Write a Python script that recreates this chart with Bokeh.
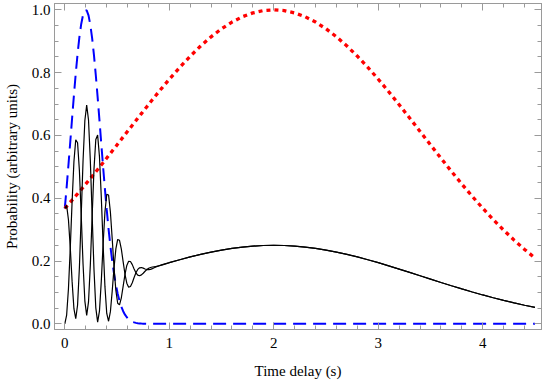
from bokeh.plotting import figure
from bokeh.models import Range1d, LinearAxis, FixedTicker, PrintfTickFormatter, ColumnDataSource
from bokeh.embed import file_html
from bokeh.resources import INLINE

# time delay (s)
time_s = [0.0, 0.0175, 0.0349, 0.0524, 0.0698, 0.0873, 0.1047, 0.1222, 0.1396, 0.1571,
          0.1745, 0.1920, 0.2094, 0.2269, 0.2443, 0.2618, 0.2793, 0.2967, 0.3142, 0.3316,
          0.3491, 0.3665, 0.3840, 0.4014, 0.4189, 0.4363, 0.4538, 0.4712, 0.4887, 0.5061,
          0.5236, 0.5411, 0.5585, 0.5760, 0.5934, 0.6109, 0.6283, 0.6458, 0.6632, 0.6807,
          0.6981, 0.7156, 0.7330, 0.7505, 0.7679, 0.7854, 0.8029, 0.8203, 0.8378, 0.8552,
          0.8727, 0.8901, 0.9076, 0.9250, 0.9425,
          1.0, 1.1, 1.2, 1.3, 1.4, 1.5, 1.6, 1.7, 1.8, 1.9,
          2.0, 2.1, 2.2, 2.3, 2.4, 2.5, 2.6, 2.7, 2.8, 2.9,
          3.0, 3.1, 3.2, 3.3, 3.4, 3.5, 3.6, 3.7, 3.8, 3.9,
          4.0, 4.1, 4.2, 4.3, 4.4, 4.5]

# blue dashed pulse
blue_pulse = [0.3679, 0.4347, 0.5059, 0.5799, 0.6546, 0.7278, 0.7969, 0.8595, 0.9129, 0.9549,
              0.9839, 0.9984, 0.9978, 0.9821, 0.9520, 0.9089, 0.8547, 0.7915, 0.7219, 0.6485,
              0.5738, 0.4999, 0.4290, 0.3627, 0.3019, 0.2475, 0.1999, 0.1589, 0.1245, 0.0960,
              0.0730, 0.0546, 0.0402, 0.0292, 0.0209, 0.0147, 0.0102, 0.0070, 0.0047, 0.0031,
              0.0020, 0.0013, 0.0008, 0.0005, 0.0003, 0.0002, 0.0001, 0.0001, 0.0, 0.0,
              0.0, 0.0, 0.0, 0.0, 0.0,
              0.0, 0.0, 0.0, 0.0, 0.0, 0.0, 0.0, 0.0, 0.0, 0.0,
              0.0, 0.0, 0.0, 0.0, 0.0, 0.0, 0.0, 0.0, 0.0, 0.0,
              0.0, 0.0, 0.0, 0.0, 0.0, 0.0, 0.0, 0.0, 0.0, 0.0,
              0.0, 0.0, 0.0, 0.0, 0.0, 0.0]

# red dotted pulse
red_pulse = [0.3679, 0.3743, 0.3809, 0.3874, 0.3940, 0.4007, 0.4074, 0.4142, 0.4210, 0.4278,
             0.4347, 0.4417, 0.4487, 0.4557, 0.4628, 0.4699, 0.4770, 0.4842, 0.4914, 0.4987,
             0.5059, 0.5132, 0.5206, 0.5279, 0.5353, 0.5427, 0.5501, 0.5575, 0.5650, 0.5725,
             0.5799, 0.5874, 0.5949, 0.6023, 0.6098, 0.6173, 0.6247, 0.6322, 0.6397, 0.6471,
             0.6546, 0.6620, 0.6694, 0.6768, 0.6842, 0.6915, 0.6988, 0.7061, 0.7134, 0.7206,
             0.7278, 0.7349, 0.7420, 0.7491, 0.7561,
             0.7788, 0.8167, 0.8521, 0.8847, 0.9139, 0.9394, 0.9608, 0.9778, 0.9900, 0.9975,
             1.0000, 0.9975, 0.9900, 0.9778, 0.9608, 0.9394, 0.9139, 0.8847, 0.8521, 0.8167,
             0.7788, 0.7390, 0.6977, 0.6554, 0.6126, 0.5698, 0.5273, 0.4855, 0.4449, 0.4056,
             0.3679, 0.3321, 0.2982, 0.2665, 0.2369, 0.2096]

# black solid: first interference signal
black_a = [0.0000, 0.0276, 0.1119, 0.2418, 0.3892, 0.5159, 0.5860, 0.5767, 0.4885, 0.3457,
           0.1912, 0.0725, 0.0270, 0.0698, 0.1877, 0.3447, 0.4926, 0.5869, 0.6011, 0.5330,
           0.4046, 0.2533, 0.1192, 0.0332, 0.0083, 0.0389, 0.1046, 0.1791, 0.2387, 0.2686,
           0.2661, 0.2380, 0.1975, 0.1579, 0.1295, 0.1168, 0.1188, 0.1310, 0.1474, 0.1626,
           0.1733, 0.1785, 0.1793, 0.1774, 0.1748, 0.1729, 0.1725, 0.1736, 0.1758, 0.1785,
           0.1812, 0.1837, 0.1859, 0.1878, 0.1894,
           0.1947, 0.2042, 0.2130, 0.2212, 0.2285, 0.2349, 0.2402, 0.2445, 0.2475, 0.2494,
           0.2500, 0.2494, 0.2475, 0.2445, 0.2402, 0.2349, 0.2285, 0.2212, 0.2130, 0.2042,
           0.1947, 0.1848, 0.1744, 0.1639, 0.1532, 0.1425, 0.1318, 0.1214, 0.1112, 0.1014,
           0.0920, 0.0830, 0.0746, 0.0666, 0.0592, 0.0524]

# black solid: second interference signal
black_b = [0.3678, 0.3770, 0.3315, 0.2418, 0.1352, 0.0483, 0.0162, 0.0601, 0.1785, 0.3457,
           0.5182, 0.6475, 0.6962, 0.6492, 0.5197, 0.3447, 0.1732, 0.0509, 0.0055, 0.0406,
           0.1352, 0.2533, 0.3556, 0.4122, 0.4103, 0.3563, 0.2704, 0.1791, 0.1061, 0.0656,
           0.0603, 0.0830, 0.1201, 0.1579, 0.1859, 0.1992, 0.1986, 0.1886, 0.1748, 0.1626,
           0.1551, 0.1531, 0.1559, 0.1612, 0.1674, 0.1729, 0.1769, 0.1794, 0.1810, 0.1819,
           0.1828, 0.1837, 0.1851, 0.1868, 0.1886,
           0.1947, 0.2042, 0.2130, 0.2212, 0.2285, 0.2349, 0.2402, 0.2445, 0.2475, 0.2494,
           0.2500, 0.2494, 0.2475, 0.2445, 0.2402, 0.2349, 0.2285, 0.2212, 0.2130, 0.2042,
           0.1947, 0.1848, 0.1744, 0.1639, 0.1532, 0.1425, 0.1318, 0.1214, 0.1112, 0.1014,
           0.0920, 0.0830, 0.0746, 0.0666, 0.0592, 0.0524]

x_major = [0, 1, 2, 3, 4]
x_minor = [0.2, 0.4, 0.6, 0.8, 1.2, 1.4, 1.6, 1.8, 2.2, 2.4, 2.6, 2.8,
           3.2, 3.4, 3.6, 3.8, 4.2, 4.4]
y_major = [0.0, 0.2, 0.4, 0.6, 0.8, 1.0]
y_minor = [0.05, 0.1, 0.15, 0.25, 0.3, 0.35, 0.45, 0.5, 0.55,
           0.65, 0.7, 0.75, 0.85, 0.9, 0.95]

FONT = "Liberation Serif"
FRAME = "#9a9a9a"

src = ColumnDataSource(dict(t=time_s, blue=blue_pulse, red=red_pulse, a=black_a, b=black_b))

p = figure(width=545, height=382, output_backend="svg", toolbar_location=None,
           x_range=Range1d(-0.0986, 4.562), y_range=Range1d(-0.018, 1.020),
           min_border_left=54, min_border_right=4, min_border_top=3, min_border_bottom=53,
           x_axis_label="Time delay (s)", y_axis_label="Probability (arbitrary units)")

p.background_fill_color = "white"
p.border_fill_color = "white"
p.outline_line_color = FRAME
p.xgrid.visible = False
p.ygrid.visible = False

p.line("t", "blue", source=src, line_color="#0000ff", line_width=2, line_dash="13 7")
p.line("t", "red", source=src, line_color="#ff0000", line_width=3.3, line_dash="4 4")
p.line("t", "a", source=src, line_color="black", line_width=1.2)
p.line("t", "b", source=src, line_color="black", line_width=1.2)

bottom = p.xaxis[0]
left = p.yaxis[0]

for ax, major, minor in [(bottom, x_major, x_minor), (left, y_major, y_minor)]:
    ax.ticker = FixedTicker(ticks=major, minor_ticks=minor)
    ax.axis_line_color = FRAME
    ax.major_tick_line_color = FRAME
    ax.minor_tick_line_color = FRAME
    ax.major_tick_in = 7
    ax.major_tick_out = 0
    ax.minor_tick_in = 4
    ax.minor_tick_out = 0
    ax.major_label_text_font = FONT
    ax.major_label_text_font_size = "15px"
    ax.major_label_text_color = "black"
    ax.axis_label_text_font = FONT
    ax.axis_label_text_font_size = "15px"
    ax.axis_label_text_font_style = "normal"
    ax.axis_label_text_color = "black"

bottom.formatter = PrintfTickFormatter(format="%d")
left.formatter = PrintfTickFormatter(format="%.1f")
bottom.major_label_standoff = 8
bottom.axis_label_standoff = 12
left.major_label_standoff = 4
left.axis_label_standoff = 9

# unlabelled frame ticks on the top and right sides (major and minor lengths)
for side, positions, length in [("above", x_major, 7), ("above", x_minor, 4),
                                ("right", y_major, 7), ("right", y_minor, 4)]:
    ax = LinearAxis(ticker=FixedTicker(ticks=[], minor_ticks=positions))
    ax.axis_line_color = FRAME
    ax.minor_tick_line_color = FRAME
    ax.major_tick_line_color = None
    ax.minor_tick_in = length
    ax.minor_tick_out = 0
    ax.major_tick_in = 0
    ax.major_tick_out = 0
    ax.major_label_standoff = 0
    ax.axis_label_standoff = 0
    p.add_layout(ax, side)

open("out.html", "w").write(file_html(p, INLINE))
